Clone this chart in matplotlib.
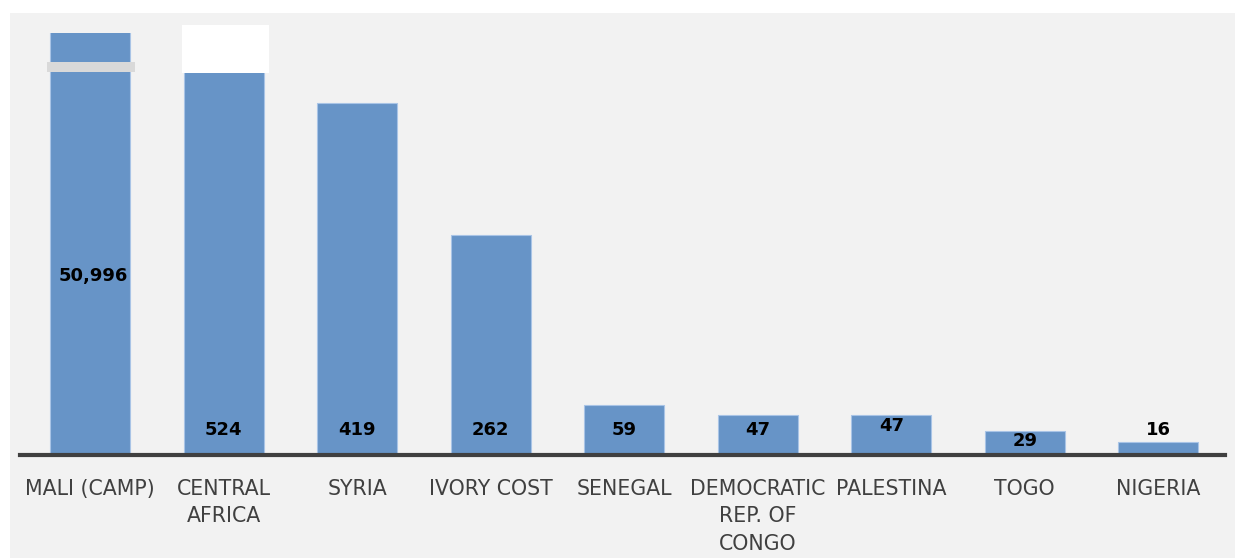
import matplotlib
matplotlib.use("Agg")
import matplotlib.pyplot as plt
import matplotlib.transforms as mtransforms
from matplotlib.patches import Rectangle

# data
countries = ["MALI (CAMP)", "CENTRAL\nAFRICA", "SYRIA", "IVORY COST", "SENEGAL",
             "DEMOCRATIC\nREP. OF\nCONGO", "PALESTINA", "TOGO", "NIGERIA"]
refugees = [50996, 524, 419, 262, 59, 47, 47, 29, 16]
value_labels = ["50,996", "524", "419", "262", "59", "47", "47", "29", "16"]

# label offsets above the baseline (pixels)
label_offsets = [179, 25, 25, 25, 25, 25, 29, 14, 25]

W, H = 1235, 558
fig = plt.figure(figsize=(W / 100, H / 100), dpi=100)
fig.patch.set_facecolor("white")

# grey panel behind the chart
fig.add_artist(Rectangle((10 / W, 0), 1 - 10 / W, (H - 13) / H,
                         transform=fig.transFigure, facecolor="#f2f2f2",
                         edgecolor="none", zorder=-5))

ax = fig.add_axes([20 / W, (H - 455) / H, (1225 - 20) / W, (455 - 33) / H])
ax.set_facecolor("none")
ax.set_zorder(2)

x = list(range(len(countries)))
ax.bar(x, refugees, width=0.6, color="#6794c7", edgecolor="#a9c4e6", linewidth=0.8, zorder=2)
ax.set_xlim(-0.525, 8.5)
ax.set_ylim(0, 502)

for i, lab in enumerate(value_labels):
    ax.annotate(lab, xy=(i, 0), xytext=(3 if i == 0 else 0, label_offsets[i]),
                textcoords="offset pixels", ha="center", va="center",
                fontsize=13, fontweight="bold", color="black", zorder=5)

# axis break marks
trans = mtransforms.blended_transform_factory(ax.transData, ax.transAxes)
ax.add_patch(Rectangle((-0.32, 0.908), 0.657, 0.023, transform=trans,
                       facecolor="#d9d9d9", edgecolor="none", clip_on=False, zorder=4))
ax.add_patch(Rectangle((0.69, 0.906), 0.65, 0.113, transform=trans,
                       facecolor="white", edgecolor="none", clip_on=False, zorder=4))

for s in ["top", "right", "left"]:
    ax.spines[s].set_visible(False)
ax.spines["bottom"].set_linewidth(3)
ax.spines["bottom"].set_color("#404040")
ax.spines["bottom"].set_zorder(3)
ax.set_yticks([])
ax.set_xticks(x)
ax.set_xticklabels(countries, fontsize=14.8, color="#404040", linespacing=1.48)
ax.tick_params(axis="x", length=0, pad=17)

fig.savefig("out.png", dpi=100, facecolor=fig.get_facecolor())
